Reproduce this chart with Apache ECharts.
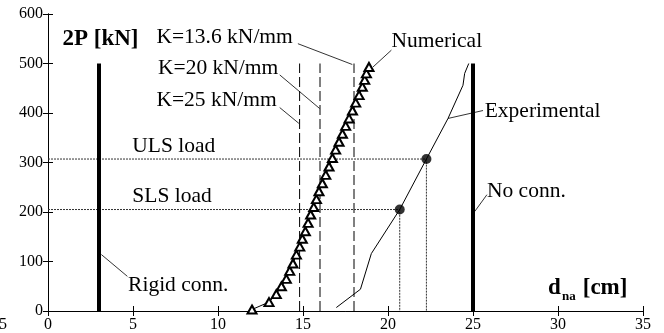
<!DOCTYPE html>
<html><head><meta charset="utf-8">
<script src="https://cdn.jsdelivr.net/npm/echarts@6/dist/echarts.min.js"></script>
<style>html,body{margin:0;padding:0;background:#fff}#c{width:664px;height:333px}</style>
</head><body><div id="c"></div>
<script>
// ---- data ----
const xMin = 0, xMax = 35, xStep = 5;
const yMin = 0, yMax = 600, yStep = 100;
const numericalX = [12.0, 13.0, 13.43, 13.73, 14.02, 14.22, 14.41, 14.61, 14.81, 14.96, 15.14, 15.30, 15.45, 15.63, 15.79, 15.94, 16.14, 16.34, 16.53, 16.73, 16.92, 17.12, 17.32, 17.51, 17.71, 17.91, 18.10, 18.30, 18.49, 18.63, 18.73, 18.88];
const numericalY = [3, 18, 34, 50, 65, 81, 96, 114, 130, 146, 161, 178, 195, 210, 226, 242, 258, 275, 292, 309, 326, 342, 358, 374, 389, 405, 421, 436, 453, 467, 480, 493];
const experimentalX = [16.96, 18.38, 19.02, 20.69, 22.26, 23.53, 24.41, 24.51, 24.75];
const experimentalY = [7, 44, 116, 205, 307, 389, 456, 480, 500];
const loadNames = ['ULS load', 'SLS load'];
const loadValues = [307, 205];
const loadDisp = [22.26, 20.69];
const stiffnessNames = ['K=13.6 kN/mm', 'K=20 kN/mm', 'K=25 kN/mm'];
const stiffnessDisp = [18.0, 16.0, 14.8];
const stiffnessTop = 500;
const boundNames = ['Rigid conn.', 'No conn.'];
const boundDisp = [3, 25];
const boundTop = 500;
const seriesNames = ['Numerical', 'Experimental'];
const axisTitleY = '2P [kN]';
const axisTitleX = ['d', 'na', ' [cm]'];

// ---- annotation layout (data coordinates) ----
const FONT = "'Liberation Serif','Times New Roman',serif";
const labelLayout = {
  'K=13.6 kN/mm': { at: [6.38, 553], leader: [[14.7, 540], [17.9, 498]] },
  'K=20 kN/mm':   { at: [6.47, 490], leader: [[13.63, 477], [15.98, 409]] },
  'K=25 kN/mm':   { at: [6.38, 426], leader: [[13.63, 411], [14.76, 379]] },
  'ULS load':     { at: [4.96, 332] },
  'SLS load':     { at: [4.96, 231] },
  'Rigid conn.':  { at: [4.71, 52], leader: [[3.14, 114], [4.67, 70]] },
  'No conn.':     { at: [25.82, 242], leader: [[25.1, 201], [25.82, 235]] },
  'Numerical':    { at: [20.2, 544], leader: [[19.12, 493], [20.2, 527]] },
  'Experimental': { at: [25.69, 403], leader: [[23.53, 389], [25.59, 405]] }
};

const chart = echarts.init(document.getElementById('c'), null, { renderer: 'canvas' });

const black = '#000';
function lineSeries(data, style, extra) {
  return Object.assign({
    type: 'line', data: data, symbol: 'none', silent: true, animation: false,
    itemStyle: { color: black },
    lineStyle: Object.assign({ color: black, width: 1 }, style)
  }, extra || {});
}

const series = [];
// connection bounds
boundDisp.forEach((d, i) => {
  series.push(lineSeries([[d, 0], [d, boundTop]], { width: 4 }, { name: boundNames[i], z: 3 }));
});
// stiffness dashed lines
stiffnessDisp.forEach((d, i) => {
  series.push(lineSeries([[d, 0], [d, stiffnessTop]], { type: [10, 4], width: 1 }, { name: stiffnessNames[i], z: 2 }));
});
// load levels dotted
loadValues.forEach((v, i) => {
  series.push(lineSeries([[0, v], [loadDisp[i], v], [loadDisp[i], 0]], { type: [2, 1], width: 1, color: '#333' }, { name: loadNames[i], z: 2 }));
});
// experimental
series.push(lineSeries(experimentalX.map((x, i) => [x, experimentalY[i]]), { width: 1 }, { name: seriesNames[1], z: 4 }));
series.push({
  type: 'scatter', name: 'loads', silent: true, animation: false, z: 5,
  symbol: 'circle', symbolSize: 10, itemStyle: { color: black },
  data: loadDisp.map((d, i) => [d, loadValues[i]])
});
// numerical
series.push({
  type: 'line', name: seriesNames[0], silent: true, animation: false, z: 6,
  data: numericalX.map((x, i) => [x, numericalY[i]]),
  symbol: 'emptyTriangle', symbolSize: [9, 8], showAllSymbol: true,
  lineStyle: { color: black, width: 1 },
  itemStyle: { color: black, borderColor: black, borderWidth: 1 }
});
// leaders
Object.keys(labelLayout).forEach(k => {
  const L = labelLayout[k];
  if (L.leader) series.push(lineSeries(L.leader, { width: 0.8 }, { z: 4 }));
});

const axisCommon = {
  type: 'value',
  axisLine: { show: true, lineStyle: { color: black, width: 1 } },
  axisTick: { show: true, inside: true, length: 5, lineStyle: { color: black } },
  splitLine: { show: false }
};
const labelStyle = { color: black, fontFamily: FONT, fontSize: 16 };

chart.setOption({
  animation: false,
  backgroundColor: '#fff',
  grid: { left: 48, right: 21, top: 14, bottom: 21, containLabel: false },
  xAxis: [
    Object.assign({}, axisCommon, { position: 'bottom', min: xMin, max: xMax, interval: xStep,
      axisLabel: Object.assign({ margin: 6 }, labelStyle) }),
    Object.assign({}, axisCommon, { position: 'top', min: xMin, max: xMax, interval: xStep,
      axisLabel: { show: false } })
  ],
  yAxis: [
    Object.assign({}, axisCommon, { position: 'left', min: yMin, max: yMax, interval: yStep,
      axisLabel: Object.assign({ margin: 5 }, labelStyle) }),
    Object.assign({}, axisCommon, { position: 'right', min: yMin, max: yMax, interval: yStep,
      axisLabel: { show: false } })
  ],
  series: series
});

function P(pt) { return chart.convertToPixel({ xAxisIndex: 0, yAxisIndex: 0 }, pt); }
const graphics = [];
Object.keys(labelLayout).forEach(k => {
  const p = P(labelLayout[k].at);
  graphics.push({ type: 'text', x: p[0], y: p[1], silent: true, z: 10,
    style: { text: k, fill: black, fontFamily: FONT, fontSize: 21.5, align: 'left', verticalAlign: 'middle' } });
});
// axis titles
const pY = P([0.85, 550]);
graphics.push({ type: 'text', x: pY[0], y: pY[1], silent: true, z: 10,
  style: { text: axisTitleY, fill: black, fontFamily: FONT, fontSize: 23, fontWeight: 'bold', align: 'left', verticalAlign: 'middle' } });
const pX = P([29.41, 47]);
graphics.push({ type: 'text', x: pX[0], y: pX[1], silent: true, z: 10,
  style: { text: axisTitleX[0], fill: black, fontFamily: FONT, fontSize: 23, fontWeight: 'bold', align: 'left', verticalAlign: 'middle' } });
graphics.push({ type: 'text', x: pX[0] + 14, y: pX[1] + 9, silent: true, z: 10,
  style: { text: axisTitleX[1], fill: black, fontFamily: FONT, fontSize: 13, fontWeight: 'bold', align: 'left', verticalAlign: 'middle' } });
graphics.push({ type: 'text', x: pX[0] + 29, y: pX[1], silent: true, z: 10,
  style: { text: axisTitleX[2], fill: black, fontFamily: FONT, fontSize: 23, fontWeight: 'bold', align: 'left', verticalAlign: 'middle' } });
// stray clipped tick label at far left
const pS = P([xMin, yMin]);
graphics.push({ type: 'text', x: 7, y: pS[1] + 14, silent: true, z: 10,
  style: { text: '5', fill: black, fontFamily: FONT, fontSize: 16, align: 'right', verticalAlign: 'middle' } });

chart.setOption({ graphic: graphics });
</script></body></html>
